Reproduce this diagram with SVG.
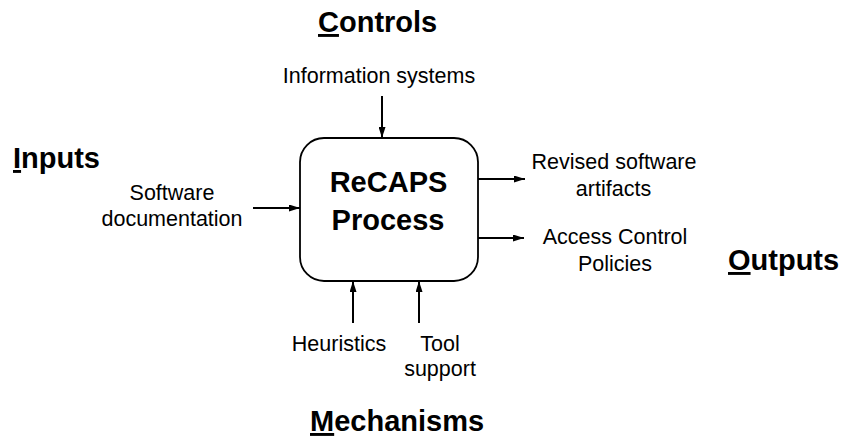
<svg xmlns="http://www.w3.org/2000/svg" width="844" height="439" viewBox="0 0 844 439">
<style>
.t{font-family:"Liberation Sans",Arial,sans-serif;font-size:21.5px;fill:#000;text-anchor:middle}
.h{font-family:"Liberation Sans",Arial,sans-serif;font-size:29px;font-weight:bold;fill:#000}
.u{text-decoration:underline}
.c{stroke:#000;stroke-width:2;fill:none;marker-end:url(#ah)}
</style>
<defs>
<marker id="ah" viewBox="0 0 11 7" refX="11" refY="3.5" markerWidth="5.5" markerHeight="3.5" orient="auto" markerUnits="strokeWidth">
<path d="M0,0 L11,3.5 L0,7 Z" fill="#000"/>
</marker>
</defs>
<rect width="844" height="439" fill="#fff"/>
<g id="process">
<rect x="300" y="138" width="178" height="143" rx="24" ry="24" fill="#fff" stroke="#000" stroke-width="1.8"/>
<text class="h" x="388.5" y="192" text-anchor="middle">ReCAPS</text>
<text class="h" x="388" y="230" text-anchor="middle">Process</text>
</g>
<g id="controls-title"><text class="h" x="318" y="32"><tspan class="u">C</tspan>ontrols</text></g>
<g id="inputs-title"><text class="h" x="13" y="168"><tspan class="u">I</tspan>nputs</text></g>
<g id="outputs-title"><text class="h" x="728" y="270"><tspan class="u">O</tspan>utputs</text></g>
<g id="mechanisms-title"><text class="h" x="310" y="431"><tspan class="u">M</tspan>echanisms</text></g>
<g id="information-systems"><text class="t" x="379" y="83">Information systems</text></g>
<g id="software-documentation"><text class="t" x="172" y="200">Software</text><text class="t" x="172" y="226">documentation</text></g>
<g id="revised-software-artifacts"><text class="t" x="614" y="169">Revised software</text><text class="t" x="613.5" y="196">artifacts</text></g>
<g id="access-control-policies"><text class="t" x="615" y="244">Access Control</text><text class="t" x="615" y="271">Policies</text></g>
<g id="heuristics"><text class="t" x="339" y="351">Heuristics</text></g>
<g id="tool-support"><text class="t" x="440" y="351">Tool</text><text class="t" x="440" y="376">support</text></g>
<g id="connectors">
<line class="c" x1="382" y1="96" x2="382" y2="138"/>
<line class="c" x1="253" y1="208" x2="300" y2="208"/>
<line class="c" x1="478" y1="179" x2="525" y2="179"/>
<line class="c" x1="478" y1="238" x2="524" y2="238"/>
<line class="c" x1="353" y1="323" x2="353" y2="281"/>
<line class="c" x1="419" y1="323" x2="419" y2="281"/>
</g>
</svg>
